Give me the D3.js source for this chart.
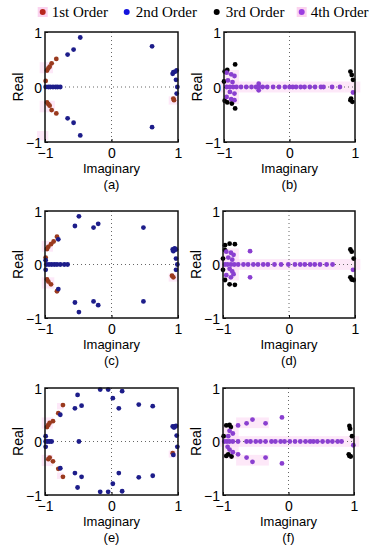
<!DOCTYPE html>
<html><head><meta charset="utf-8">
<script src="https://cdn.jsdelivr.net/npm/d3@7/dist/d3.min.js"></script>
<style>body{margin:0;background:#fff}svg{display:block}</style>
</head><body>
<svg id="chart" width="378" height="550"></svg>
<script>
// ---------- data ----------
const orderNames = ["1st Order", "2nd Order", "3rd Order", "4th Order"];
const panelLabels = ["(a)", "(b)", "(c)", "(d)", "(e)", "(f)"];
const tickValues = [-1, 0, 1];
const tickLabels = ["\u22121", "0", "1"];

// panel (a): 1st & 2nd order
const a1 = [[-0.95,0.34],[-0.97,0.30],[-0.93,0.37],[-0.9,0.43],[-0.83,0.51],[-0.95,-0.31],[-0.97,-0.28],[-0.93,-0.34],[-0.9,-0.42],[-0.83,-0.48],[0.94,-0.24],[0.93,-0.21],[-0.99,0.11]];
const a2 = [[-0.47,0.90],[-0.57,0.68],[-0.66,0.59],[0.61,0.74],[-0.47,-0.88],[-0.57,-0.65],[-0.66,-0.57],[0.61,-0.73],
  [-0.99,0],[-0.95,0],[-0.92,0],[-0.88,0],[-0.84,0],[-0.81,0],[-0.77,0],
  [0.93,0.27],[0.96,0.28],[0.98,0.30],[0.92,0.24],[0.97,0.13],[0.99,0],[0.98,-0.12]];
// panel (b): 3rd & 4th order
const b3 = [[-0.99,0.28],[-0.95,0.31],[-0.83,0.41],[-1.0,0.1],[-0.95,-0.28],[-0.88,-0.3],[-0.83,-0.39],[-0.99,-0.25],
  [0.93,0.28],[0.95,0.22],[0.97,0.13],[0.93,-0.24],[0.96,-0.27],[0.94,-0.21]];
const b4 = [[-0.96,0.26],[-0.89,0.23],[-0.84,0.2],[-0.94,0.12],[-0.87,0.09],[-0.91,-0.09],[-0.84,-0.12],[-0.96,-0.18],[-0.89,-0.22],[-0.84,-0.24],
  [-0.96,0],[-0.91,0],[-0.86,0],[-0.81,0],[-0.74,0],[-0.66,0],[-0.58,0],[-0.51,0],[-0.47,0],[-0.41,0],[-0.34,0],[-0.25,0],[-0.16,0],[-0.07,0],[0.0,0],[0.05,0],[0.1,0],[0.17,0],[0.23,0],[0.31,0],[0.39,0],[0.48,0],[0.52,0],[0.65,0],[0.77,0],
  [-0.47,0.06],[-0.47,-0.06],[0.97,-0.1]];
// panel (c): 1st & 2nd order
const c1 = [[-0.95,0.33],[-0.97,0.29],[-0.91,0.38],[-0.87,0.43],[-0.82,0.52],[-0.95,-0.32],[-0.97,-0.28],[-0.91,-0.37],[-0.82,-0.5],[0.93,-0.24],[0.91,-0.21],[-0.99,0.13]];
const c2 = [[-0.49,0.90],[-0.55,0.72],[-0.27,0.69],[-0.20,0.76],[0.48,0.69],[-0.49,-0.89],[-0.55,-0.71],[-0.27,-0.69],[-0.20,-0.76],[0.48,-0.69],
  [-0.8,0.47],[-0.8,-0.46],
  [-0.98,0],[-0.94,0],[-0.9,0],[-0.86,0],[-0.82,0],[-0.77,0],[-0.71,0],[-0.66,0],[-0.99,0.08],[-0.99,-0.1],
  [0.92,0.28],[0.95,0.3],[0.97,0.28],[0.93,0.25],[0.97,0.11],[0.99,0],[0.97,-0.1]];
// panel (d): 3rd & 4th order
const d3pts = [[-0.97,0.36],[-0.9,0.39],[-0.82,0.38],[-1.0,0.11],[-0.97,0.27],[-0.97,-0.29],[-0.9,-0.37],[-0.82,-0.38],[-1.0,-0.1],
  [0.93,0.28],[0.95,0.24],[0.98,0.11],[0.93,-0.24],[0.95,-0.28],[0.98,-0.29]];
const d4pts = [[-0.95,0.24],[-0.88,0.22],[-0.84,0.18],[-0.92,0.13],[-0.86,0.09],[-0.9,-0.08],[-0.86,-0.13],[-0.95,-0.2],[-0.88,-0.24],[-0.84,-0.18],
  [-0.97,0],[-0.93,0],[-0.88,0],[-0.83,0],[-0.77,0],[-0.69,0],[-0.62,0],[-0.54,0],[-0.47,0],[-0.39,0],[-0.32,0],[-0.22,0],[-0.12,0],[-0.01,0],[0.09,0],[0.17,0],[0.24,0],[0.32,0],[0.39,0],[0.47,0],[0.57,0],[0.66,0],
  [-0.59,0.25],[-0.59,-0.24],[0.97,-0.1]];
// panel (e): 1st & 2nd order
const e1 = [[-0.95,0.31],[-0.93,0.35],[-0.88,0.38],[-0.8,0.53],[-0.73,0.68],[-0.95,-0.33],[-0.93,-0.3],[-0.88,-0.37],[-0.8,-0.51],[-0.73,-0.66],[0.92,-0.22],[-0.97,0.27]];
const e2 = [[-0.17,0.97],[-0.05,0.97],[0.16,0.94],[0.02,0.81],[-0.51,0.87],[-0.55,0.62],[-0.45,0.67],[0.11,0.62],[0.41,0.69],[0.62,0.66],[-0.77,0.5],
  [-0.17,-0.94],[-0.05,-0.94],[0.16,-0.93],[0.02,-0.79],[-0.51,-0.86],[-0.55,-0.59],[-0.45,-0.66],[0.11,-0.59],[0.41,-0.67],[0.62,-0.64],[-0.77,-0.5],
  [-0.49,0],[-0.99,0],[-0.96,0],[-0.93,0],[-0.9,0],[-0.99,0.1],[-0.99,-0.1],
  [0.92,0.28],[0.95,0.28],[0.97,0.29],[0.94,0.26],[0.98,0.11],[0.99,-0.1],[0.93,-0.25]];
// panel (f): 3rd & 4th order
const f3 = [[-0.95,0.3],[-0.9,0.31],[-0.88,0.27],[-0.99,0.1],[-0.92,-0.24],[-0.87,-0.28],[-0.95,-0.27],
  [0.93,0.29],[0.94,0.24],[0.97,0.1],[0.92,-0.24],[0.95,-0.28],[0.93,-0.27]];
const f4 = [[-0.64,0.34],[-0.55,0.41],[-0.35,0.34],[-0.10,0.45],[-0.64,-0.30],[-0.55,-0.38],[-0.35,-0.30],[-0.10,-0.41],
  [-0.77,0.30],[-0.77,-0.24],[-0.9,0.2],[-0.85,0.15],[-0.92,0.1],[-0.9,-0.15],[-0.85,-0.2],[-0.93,-0.1],
  [-0.98,0],[-0.94,0],[-0.9,0],[-0.85,0],[-0.77,0],[-0.64,0],[-0.58,0],[-0.5,0],[-0.43,0],[-0.35,0],[-0.26,0],[-0.2,0],[-0.12,0],[-0.06,0],[0.02,0],[0.1,0],[0.18,0],[0.26,0],[0.33,0],[0.38,0],[0.44,0],[0.52,0],[0.6,0],[0.67,0],[0.75,0],[0.81,0],
  [0.99,-0.07]];

// light pink highlight boxes [x0,x1,y0,y1] in data units
const hiA = [[-1.08,-0.88,0.25,0.45],[-1.08,-0.85,-0.46,-0.25],[-1.12,-0.95,-0.97,-0.8],[0.86,1.0,-0.32,-0.17]];
const hiB = [[-1.06,0.84,-0.1,0.1],[-0.99,-0.77,-0.31,0.31],[0.84,1.08,-0.1,0.1]];
const hiC = [[-1.05,-0.88,0.24,0.44],[-1.05,-0.86,-0.45,-0.24],[0.86,1.0,-0.32,-0.17]];
const hiD = [[-1.06,1.08,-0.1,0.1],[-1.0,-0.76,-0.3,0.3]];
const hiE = [[-1.05,-0.88,0.24,0.45],[-1.05,-0.88,-0.46,-0.25],[-0.82,-0.72,0.6,0.72],[-0.82,-0.72,-0.7,-0.58],[0.86,0.98,-0.3,-0.17]];
const hiF = [[-1.06,0.85,-0.1,0.1],[-1.0,-0.76,-0.32,0.32],[-0.8,-0.3,0.25,0.45],[-0.8,-0.3,-0.45,-0.25],[0.85,1.08,-0.1,0.1]];

// ---------- styles ----------
const plotColors = ["#9a3a1e", "#1d1d8a", "#000000", "#8a3fd0"];
const legendColors = ["#b8261c", "#1313dd", "#000000", "#9b3ee0"];

const panels = [
  {box:[45,178,32,142], hi:hiA, series:[[a1,0],[a2,1]]},
  {box:[224,355,32,142], hi:hiB, series:[[b3,2],[b4,3]]},
  {box:[45,178,211,318], hi:hiC, series:[[c1,0],[c2,1]]},
  {box:[223,355,211,318], hi:hiD, series:[[d3pts,2],[d4pts,3]]},
  {box:[45,178,388,495], hi:hiE, series:[[e1,0],[e2,1]]},
  {box:[223,354,388,495], hi:hiF, series:[[f3,2],[f4,3]]}
];

const svg = d3.select("#chart");
const sans = "'Liberation Sans', Arial, sans-serif";

panels.forEach((p, i) => {
  const [L, R, T, B] = p.box;
  const x = d3.scaleLinear().domain([-1, 1]).range([L, R]);
  const y = d3.scaleLinear().domain([-1, 1]).range([B, T]);
  const g = svg.append("g");

  g.selectAll("rect.hi").data(p.hi).enter().append("rect")
    .attr("x", d => x(d[0])).attr("width", d => x(d[1]) - x(d[0]))
    .attr("y", d => y(d[3])).attr("height", d => y(d[2]) - y(d[3]))
    .attr("fill", "#fcdcf4").attr("opacity", 0.65);

  g.append("line").attr("x1", x(0)).attr("x2", x(0)).attr("y1", T).attr("y2", B)
    .attr("stroke", "#666").attr("stroke-width", 1).attr("stroke-dasharray", "1,3");
  g.append("line").attr("x1", L).attr("x2", R).attr("y1", y(0)).attr("y2", y(0))
    .attr("stroke", "#666").attr("stroke-width", 1).attr("stroke-dasharray", "1,3");

  const xa = d3.axisBottom(x).tickValues(tickValues).tickSize(-3).tickFormat((d, k) => tickLabels[k]);
  const ya = d3.axisLeft(y).tickValues(tickValues).tickSize(-3).tickFormat((d, k) => tickLabels[k]);
  const gx = g.append("g").attr("transform", `translate(0,${B})`).call(xa);
  const gy = g.append("g").attr("transform", `translate(${L},0)`).call(ya);
  [gx, gy].forEach(a => {
    a.select(".domain").remove();
    a.selectAll("line").attr("stroke", "#000");
    a.selectAll("text").attr("font-family", sans).attr("font-size", 14).attr("fill", "#000");
  });
  gx.selectAll("text").attr("dy", "0.95em").attr("y", 3);
  gy.selectAll("text").attr("x", -3).attr("dy", "0.36em");

  p.series.forEach(([pts, k]) => {
    g.selectAll(null).data(pts).enter().append("circle")
      .attr("cx", d => x(d[0])).attr("cy", d => y(d[1])).attr("r", 2.4)
      .attr("fill", plotColors[k]);
  });

  g.append("rect").attr("x", L).attr("y", T).attr("width", R - L).attr("height", B - T)
    .attr("fill", "none").attr("stroke", "#111").attr("stroke-width", 1.5);

  const cx = (L + R) / 2;
  g.append("text").attr("x", cx).attr("y", B + 31).attr("text-anchor", "middle")
    .attr("font-family", sans).attr("font-size", 13).text("Imaginary");
  g.append("text").attr("x", cx).attr("y", B + 47).attr("text-anchor", "middle")
    .attr("font-family", sans).attr("font-size", 13).text(panelLabels[i]);
  g.append("text").attr("transform", `translate(${L - 22},${(T + B) / 2}) rotate(-90)`)
    .attr("text-anchor", "middle").attr("font-family", sans).attr("font-size", 14).text("Real");
});

const legX = [42.7, 126.7, 216.7, 301.7];
const leg = svg.append("g");
orderNames.forEach((n, k) => {
  if (k === 0 || k === 3) {
    leg.append("rect").attr("x", legX[k] - 5).attr("y", 7).attr("width", 10).attr("height", 10)
      .attr("fill", "#fbd3ef");
  }
  leg.append("circle").attr("cx", legX[k]).attr("cy", 12).attr("r", 3).attr("fill", legendColors[k]);
  leg.append("text").attr("x", legX[k] + 9).attr("y", 17)
    .attr("font-family", "'Liberation Serif', 'Times New Roman', serif").attr("font-size", 15).text(n);
});
</script>
</body></html>
